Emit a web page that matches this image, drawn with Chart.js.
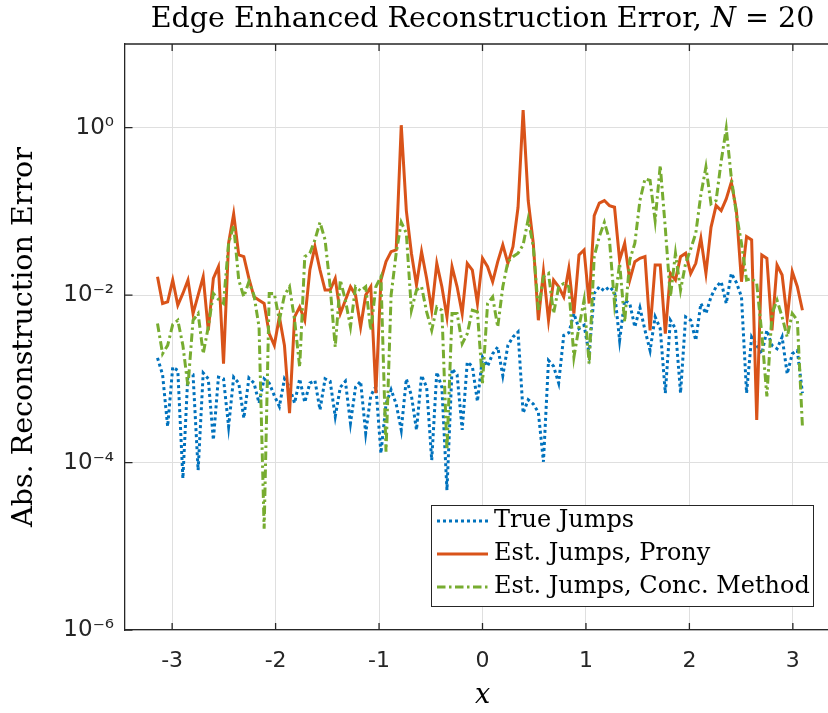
<!DOCTYPE html>
<html><head><meta charset="utf-8">
<script src="https://cdn.jsdelivr.net/npm/chart.js@4/dist/chart.umd.min.js"></script>
<style>html,body{margin:0;padding:0;background:#fff;overflow:hidden}#wrap{width:828px;height:713px;position:relative;overflow:hidden}</style>
</head><body><div id="wrap"><canvas id="c" width="840" height="713"></canvas></div>
<script>
// ---------- data ----------
const titleMain = 'Edge Enhanced Reconstruction Error, ';
const titleVar = 'N';
const titleTail = ' = 20';
const xAxisLabel = 'x';
const yAxisLabel = 'Abs. Reconstruction Error';
const seriesNames = ['True Jumps', 'Est. Jumps, Prony', 'Est. Jumps, Conc. Method'];
const xTickValues = [-3, -2, -1, 0, 1, 2, 3];
const yTickValues = [1e-6, 1e-4, 1e-2, 1];
const nSamples = 128; // uniform grid on [-pi, pi)

// log10 of the absolute error at each sample point
const trueJumpsLog10 = [
 -2.75,-2.95,-3.57,-2.86,-2.90,-4.19,-2.93,-2.95,-4.09,-2.93,-3.00,-3.73,-2.98,-3.00,-3.57,-2.98,
 -3.05,-3.47,-2.99,-3.05,-3.29,-3.00,-3.05,-3.20,-3.33,-3.00,-3.10,-3.29,-3.00,-3.28,-3.05,-3.02,
 -3.37,-3.00,-3.03,-3.45,-3.10,-3.03,-3.53,-3.10,-3.03,-3.65,-3.20,-3.09,-3.89,-3.30,-3.13,-3.30,
 -3.61,-3.00,-3.20,-3.61,-2.96,-3.10,-3.97,-2.92,-3.10,-4.33,-2.88,-2.95,-3.61,-2.80,-2.85,-3.27,
 -2.74,-2.85,-2.70,-2.62,-2.96,-2.60,-2.50,-2.44,-3.41,-3.25,-3.30,-3.40,-3.99,-2.78,-2.85,-3.05,
 -2.48,-2.45,-2.22,-2.40,-2.36,-2.70,-1.98,-1.90,-1.95,-1.90,-1.96,-2.54,-2.06,-2.10,-2.38,-2.15,
 -2.42,-2.66,-2.26,-2.40,-3.17,-2.30,-2.40,-3.17,-2.26,-2.30,-2.54,-2.10,-2.22,-2.02,-1.90,-1.84,
 -2.10,-1.74,-1.85,-2.02,-3.17,-2.50,-2.60,-2.70,-2.42,-2.60,-2.64,-2.50,-2.94,-2.70,-2.66,-3.17];
const pronyLog10 = [
 -1.78,-2.10,-2.08,-1.82,-2.12,-1.98,-1.82,-2.22,-2.00,-1.78,-2.42,-1.80,-1.66,-2.82,-1.38,-1.03,
 -1.52,-1.54,-1.80,-2.02,-2.06,-2.10,-2.46,-2.60,-2.26,-2.60,-3.41,-2.26,-2.14,-2.30,-1.70,-1.42,
 -1.70,-1.94,-1.94,-1.80,-2.22,-2.06,-1.90,-2.00,-2.38,-2.00,-1.90,-3.17,-1.82,-1.60,-1.48,-1.46,
  0.03,-0.99,-1.50,-1.88,-1.48,-1.80,-2.18,-1.62,-1.90,-2.26,-1.66,-1.90,-2.22,-1.62,-1.70,-2.10,
 -1.56,-1.66,-1.84,-1.60,-1.40,-1.62,-1.42,-0.95, 0.21,-0.87,-1.38,-2.30,-1.72,-2.30,-1.82,-1.90,
 -2.02,-1.68,-2.22,-1.52,-1.46,-2.10,-1.05,-0.90,-0.87,-0.93,-0.95,-1.58,-1.38,-1.82,-1.60,-1.56,
 -1.54,-2.42,-1.64,-1.64,-2.46,-1.74,-1.82,-1.54,-1.50,-1.74,-1.62,-1.32,-1.74,-1.19,-0.93,-0.99,
 -0.85,-0.65,-0.99,-1.84,-1.30,-1.34,-3.49,-1.52,-1.56,-2.42,-1.64,-1.76,-2.28,-1.72,-1.90,-2.18];
const concLog10 = [
 -2.34,-2.70,-2.60,-2.35,-2.30,-2.60,-3.09,-2.30,-2.22,-2.70,-2.38,-1.98,-2.05,-2.10,-1.38,-1.17,
 -1.82,-2.02,-1.84,-2.00,-2.38,-4.79,-1.98,-1.98,-2.30,-2.00,-1.90,-2.30,-2.86,-1.54,-1.50,-1.34,
 -1.13,-1.34,-1.90,-2.62,-1.82,-2.06,-2.38,-1.90,-1.95,-1.90,-2.42,-1.90,-1.78,-3.87,-2.00,-1.50,
 -1.13,-1.26,-2.18,-1.94,-1.90,-2.20,-2.42,-2.14,-2.18,-3.85,-2.22,-2.22,-2.58,-2.46,-2.18,-2.20,
 -3.05,-2.10,-2.02,-2.38,-1.90,-1.60,-1.54,-1.50,-1.40,-1.09,-1.42,-2.18,-1.78,-1.74,-2.22,-1.90,
 -1.86,-1.90,-2.74,-2.38,-2.06,-2.82,-1.54,-1.30,-1.13,-1.34,-2.10,-1.62,-2.32,-1.58,-1.38,-0.87,
 -0.61,-0.63,-1.11,-0.45,-1.20,-2.02,-1.50,-1.94,-1.62,-1.45,-1.26,-0.80,-0.47,-0.91,-0.87,-0.40,
 -0.01,-0.60,-1.03,-1.38,-1.82,-1.80,-1.86,-2.46,-3.21,-2.22,-2.06,-2.26,-2.50,-2.22,-2.30,-3.57];

// ---------- styling ----------
const AX = '#262626';
const COLORS = ['#0072BD', '#D95319', '#77AC30'];
const DASHES = [[3, 3], [], [8.5, 3.5, 2.5, 3.5]];
const WIDTHS = [3, 3, 3];
const SERIF = 'DejaVu Serif';
const SANS = 'DejaVu Sans';

function fitSize(text, style, target) {
  const c = document.createElement('canvas').getContext('2d');
  c.font = style + ' 100px "' + SERIF + '"';
  return 100 * target / c.measureText(text).width;
}
const yLabelSize = fitSize(yAxisLabel, 'normal', 380);
const legendSize = fitSize(seriesNames[2], 'normal', 316);

const xGrid = trueJumpsLog10.map((_, j) => -Math.PI + 2 * Math.PI * j / nSamples);
const toPoints = arr => arr.map((e, j) => ({ x: xGrid[j], y: Math.pow(10, e) }));

const SUP = {'-':'\u207B','0':'\u2070','1':'\u00B9','2':'\u00B2','3':'\u00B3','4':'\u2074','5':'\u2075','6':'\u2076','7':'\u2077','8':'\u2078','9':'\u2079'};
const supLabel = v => '10' + String(Math.round(Math.log10(v))).split('').map(ch => SUP[ch]).join('');

const framePlugin = {
  id: 'frame',
  afterDatasetsDraw(chart) {
    const { ctx, chartArea: a, scales } = chart;
    ctx.save();
    ctx.strokeStyle = AX; ctx.lineWidth = 1.3;
    ctx.beginPath();
    ctx.moveTo(a.left, a.top); ctx.lineTo(a.right, a.top);
    xTickValues.forEach(v => {
      const px = scales.x.getPixelForValue(v);
      ctx.moveTo(px, a.bottom); ctx.lineTo(px, a.bottom - 7);
      ctx.moveTo(px, a.top); ctx.lineTo(px, a.top + 7);
    });
    yTickValues.forEach(v => {
      const py = scales.y.getPixelForValue(v);
      ctx.moveTo(a.left, py); ctx.lineTo(a.left + 7.5, py);
    });
    ctx.stroke();
    ctx.restore();
  },
  afterDraw(chart) {
    const { ctx, chartArea: a } = chart;
    ctx.save();
    // title
    const segs = [[titleMain, 'normal'], [titleVar, 'italic'], [titleTail, 'normal']];
    ctx.textBaseline = 'alphabetic';
    let w100 = 0;
    segs.forEach(s => { ctx.font = s[1] + ' 100px "' + SERIF + '"'; w100 += ctx.measureText(s[0]).width; });
    const tSize = 100 * 664 / w100;
    let tw = 0;
    segs.forEach(s => { ctx.font = s[1] + ' ' + tSize + 'px "' + SERIF + '"'; tw += ctx.measureText(s[0]).width; });
    let x = (a.left + a.right) / 2 - tw / 2;
    ctx.fillStyle = '#000';
    segs.forEach(s => {
      ctx.font = s[1] + ' ' + tSize + 'px "' + SERIF + '"';
      ctx.fillText(s[0], x, 27);
      x += ctx.measureText(s[0]).width;
    });
    // legend
    const L = 431, T = 505, R = 814, B = 607;
    ctx.fillStyle = '#fff';
    ctx.fillRect(L, T, R - L, B - T);
    ctx.strokeStyle = AX; ctx.lineWidth = 1;
    ctx.strokeRect(L + 0.5, T + 0.5, R - L - 1, B - T - 1);
    const rows = [521, 554, 587];
    rows.forEach((yy, i) => {
      ctx.beginPath();
      ctx.setLineDash(DASHES[i]);
      ctx.lineCap = 'butt';
      ctx.strokeStyle = COLORS[i]; ctx.lineWidth = WIDTHS[i];
      ctx.moveTo(437, yy); ctx.lineTo(488, yy);
      ctx.stroke();
      ctx.setLineDash([]);
      ctx.fillStyle = '#000';
      ctx.font = 'normal ' + legendSize + 'px "' + SERIF + '"';
      ctx.textBaseline = 'middle';
      ctx.fillText(seriesNames[i], 494, yy);
    });
    ctx.restore();
  }
};

const datasets = [trueJumpsLog10, pronyLog10, concLog10].map((arr, i) => ({
  label: seriesNames[i],
  data: toPoints(arr),
  borderColor: COLORS[i],
  backgroundColor: COLORS[i],
  borderWidth: WIDTHS[i],
  borderDash: DASHES[i],
  borderCapStyle: 'butt',
  pointRadius: 0,
  fill: false,
  tension: 0,
  order: 2 - i
}));

new Chart(document.getElementById('c'), {
  type: 'line',
  data: { datasets },
  options: {
    responsive: false,
    animation: false,
    devicePixelRatio: 1,
    layout: { padding: { left: 0, right: 0, top: 44, bottom: 0 } },
    plugins: { legend: { display: false }, title: { display: false }, tooltip: { enabled: false } },
    scales: {
      x: {
        type: 'linear',
        min: -1.1 * Math.PI, max: 1.1 * Math.PI,
        afterBuildTicks: s => { s.ticks = xTickValues.map(v => ({ value: v })); },
        afterFit: s => { s.height = 83; },
        ticks: { font: { family: SANS, size: 22 }, color: AX, padding: 18, maxRotation: 0, autoSkip: false, callback: v => String(v) },
        grid: { color: '#dfdfdf', lineWidth: 1, drawTicks: false },
        border: { color: AX, width: 1.3 },
        title: { display: true, text: xAxisLabel, color: '#000', font: { family: SERIF, style: 'italic', size: 27 }, padding: { top: 0, bottom: 1 } }
      },
      y: {
        type: 'logarithmic',
        min: 1e-6, max: 10,
        afterBuildTicks: s => { s.ticks = yTickValues.map(v => ({ value: v })); },
        afterFit: s => { s.width = 125; },
        ticks: { font: { family: SANS, size: 23 }, color: AX, padding: 11, autoSkip: false, callback: v => supLabel(v) },
        grid: { color: '#dfdfdf', lineWidth: 1, drawTicks: false },
        border: { color: AX, width: 1.3 },
        title: { display: true, text: yAxisLabel, color: '#000', font: { family: SERIF, size: yLabelSize }, padding: { top: 7, bottom: 0 } }
      }
    }
  },
  plugins: [framePlugin]
});
</script>
</body></html>
